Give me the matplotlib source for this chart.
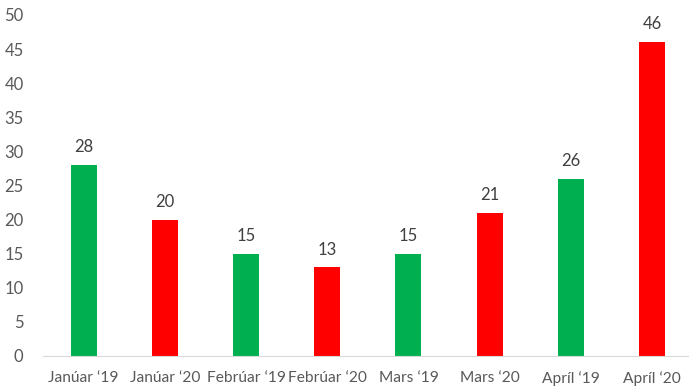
import matplotlib
matplotlib.use("Agg")
import matplotlib.pyplot as plt

months = ["Janúar \u201819", "Janúar \u201820", "Febrúar \u201819", "Febrúar \u201820",
          "Mars \u201819", "Mars \u201820", "Apríl \u201819", "Apríl \u201820"]
values = [28, 20, 15, 13, 15, 21, 26, 46]
colors = ["#00B050", "#FF0000"] * 4

plt.rcParams['font.family'] = ['Lato', 'DejaVu Sans']
text_col = "#595959"

fig = plt.figure(figsize=(6.89, 3.88), dpi=100)
ax = fig.add_axes([0.0624, 0.0825, 0.943, 0.879])

x = list(range(len(values)))
bars = ax.bar(x, values, width=0.32, color=colors)

for xi, v in zip(x, values):
    ax.annotate(str(v), xy=(xi, v), xytext=(0, 7), textcoords="offset points",
                ha="center", va="bottom", fontsize=12, color="#404040")

ax.set_xlim(-0.5, 7.5)
ax.set_ylim(0, 50)
ax.set_yticks(range(0, 51, 5))
ax.set_xticks(x)
ax.set_xticklabels(months)
ax.tick_params(axis="both", length=0, labelsize=12, colors=text_col)
ax.tick_params(axis="x", pad=11, labelsize=11.2)
ax.tick_params(axis="y", pad=14)

for side in ["top", "right", "left"]:
    ax.spines[side].set_visible(False)
ax.spines["bottom"].set_color("#D9D9D9")

fig.savefig("out.png", dpi=100)
